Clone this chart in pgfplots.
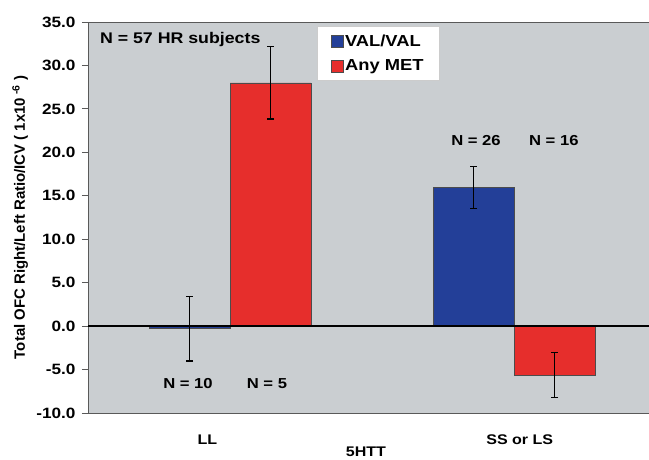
\documentclass[border=0pt]{standalone}
\usepackage{pgfplots}
\pgfplotsset{compat=1.18}
\usepackage{fontspec}
\setmainfont{Liberation Sans}[FakeStretch=1.15]
\newfontfamily\ylabfont{Liberation Sans}
\definecolor{bgplot}{HTML}{CACED1}
\definecolor{barblue}{HTML}{233F98}
\definecolor{barred}{HTML}{E62E2C}
\begin{document}
\begin{tikzpicture}
\begin{axis}[
  scale only axis, width=561bp, height=391bp,
  xmin=-0.5, xmax=1.475, ymin=-10, ymax=35,
  axis background/.style={fill=bgplot},
  axis x line*=box, axis y line*=left,
  axis line style={draw=gray!70!black, line width=0.8bp},
  ytick={-10,-5,...,35},
  xtick={-0.08,1.02}, xticklabels={LL, SS or LS},
  major x tick style={draw=none},
  major y tick style={draw=gray!70!black, line width=0.8bp},
  tick align=outside, major tick length=6bp,
  /pgf/number format/assume math mode=true,
  /pgf/number format/.cd, fixed, fixed zerofill, precision=1,
  /pgfplots/.cd,
  yticklabel style={font=\bfseries\fontsize{15}{15}\selectfont, xshift=-3bp},
  xticklabel style={font=\bfseries\fontsize{14}{14}\selectfont, yshift=-12bp},
  xlabel={5HTT},
  xlabel style={at={(axis description cs:0.4955,0)}, anchor=center, yshift=-39bp, font=\bfseries\fontsize{14}{14}\selectfont},
  ylabel={Total OFC Right/Left Ratio/ICV ( 1x10\textsuperscript{ -6} )},
  ylabel style={at={(axis description cs:-0.121,0.5)}, anchor=center, rotate=0, font=\ylabfont\bfseries\fontsize{15}{15}\selectfont},
  ybar, bar width=0.285, bar shift=0pt,
  legend style={at={(0.408,0.99)}, anchor=north west, draw=gray!40, fill=white,
    font=\bfseries\fontsize{16}{16}\selectfont, row sep=9bp, inner xsep=14bp, inner ysep=7bp,
    nodes={inner sep=1.5bp}},
  legend cell align=left,
  legend image code/.code={\draw[#1] (0bp,-6bp) rectangle (12bp,6bp);},
  error bars/y dir=both, error bars/y explicit,
  error bars/error bar style={black, line width=1.3bp},
  error bars/error mark options={black, rotate=90, mark size=3.5bp, line width=1.3bp},
]
\addplot[fill=barblue, draw=black!70, line width=0.5bp]
  coordinates {(-0.1425,-0.3) +- (0,3.7) (0.8575,15.95) +- (0,2.45)};
\addlegendentry{VAL/VAL}
\addplot[fill=barred, draw=black!70, line width=0.5bp]
  coordinates {(0.1425,28.0) +- (0,4.15) (1.1425,-5.6) +- (0,2.6)};
\addlegendentry{Any MET}
\draw[black, line width=1.5bp] (axis cs:-0.5,0) -- (axis cs:1.475,0);
\node[anchor=west, font=\bfseries\fontsize{15.5}{15.5}\selectfont] at (axis cs:-0.47,33.0) {N = 57 HR subjects};
\node[font=\bfseries\fontsize{14.5}{14.5}\selectfont] at (axis cs:-0.148,-6.56) {N = 10};
\node[font=\bfseries\fontsize{14.5}{14.5}\selectfont] at (axis cs:0.13,-6.56) {N = 5};
\node[font=\bfseries\fontsize{14.5}{14.5}\selectfont] at (axis cs:0.866,21.4) {N = 26};
\node[font=\bfseries\fontsize{14.5}{14.5}\selectfont] at (axis cs:1.14,21.4) {N = 16};
\coordinate (ll) at (rel axis cs:0,0);
\coordinate (ur) at (rel axis cs:1,1);
\end{axis}
\pgfresetboundingbox
\useasboundingbox ([xshift=-88bp,yshift=-47bp]ll) rectangle ([yshift=22bp]ur);
\end{tikzpicture}
\end{document}
